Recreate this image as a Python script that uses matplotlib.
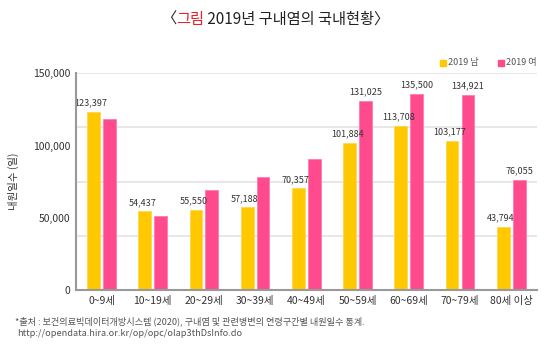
import numpy as np
import matplotlib.pyplot as plt
from matplotlib.patches import Rectangle

plt.rcParams['font.family'] = ['Noto Sans CJK KR', 'DejaVu Sans']

groups = ['0~9세', '10~19세', '20~29세', '30~39세', '40~49세',
          '50~59세', '60~69세', '70~79세', '80세 이상']
male = [123397, 54437, 55550, 57188, 70357, 101884, 113708, 103177, 43794]
female = [118000, 51400, 69500, 78500, 91000, 131025, 135500, 134921, 76055]
# which female bars carry a value label in the original
female_labeled = [False, False, False, False, False, True, True, True, True]

c_male = '#FFC800'
c_female = '#FF4A8D'
txt = '#333333'

fig = plt.figure(figsize=(5.5, 3.5), dpi=100)
ax = fig.add_axes([0.138, 0.171, 0.838, 0.62])

x = np.arange(len(groups))
w = 0.25
off = 0.155
ax.bar(x - off, male, w, color=c_male, edgecolor='#FFD84D', linewidth=0.6, zorder=3)
ax.bar(x + off, female, w, color=c_female, edgecolor='#FF7AAE', linewidth=0.6, zorder=3)

for i, v in enumerate(male):
    ax.text(x[i] - off - 0.05, v + 3000, f'{v:,}', ha='center', va='bottom',
            fontsize=6.5, color=txt)
for i, v in enumerate(female):
    if female_labeled[i]:
        ax.text(x[i] + off, v + 3000, f'{v:,}', ha='center', va='bottom',
                fontsize=6.5, color=txt)

ax.set_xlim(-0.5, len(groups) - 0.5)
ax.set_ylim(0, 150000)
ax.set_yticks([0, 50000, 100000, 150000])
ax.set_yticklabels(['0', '50,000', '100,000', '150,000'])
for g in [37500, 75000, 112500, 150000]:
    ax.axhline(g, color='#E3E3E3', linewidth=1.2, zorder=1)
ax.set_xticks(x)
ax.set_xticklabels(groups)
ax.tick_params(axis='both', length=0, labelsize=7.5, colors=txt)
ax.tick_params(axis='x', pad=4)
ax.tick_params(axis='y', pad=4)
for s in ['top', 'right']:
    ax.spines[s].set_visible(False)
for s in ['left', 'bottom']:
    ax.spines[s].set_color('#999999')
    ax.spines[s].set_linewidth(1.5)
    ax.spines[s].set_zorder(4)

ax.set_ylabel('내원일수 (일)', fontsize=7.5, color=txt, labelpad=10)

# legend
fig.patches.append(Rectangle((0.8, 0.812), 0.011, 0.017, transform=fig.transFigure,
                             color=c_male, figure=fig))
fig.text(0.815, 0.821, '2019 남', fontsize=6.5, color='#555555', va='center')
fig.patches.append(Rectangle((0.905, 0.812), 0.011, 0.017, transform=fig.transFigure,
                             color=c_female, figure=fig))
fig.text(0.92, 0.821, '2019 여', fontsize=6.5, color='#555555', va='center')

# title: pieces laid out one after another
pieces = [('〈', '#222222'), ('그림', '#E8202A'), (' 2019년 구내염의 국내현황〉', '#222222')]
renderer = fig.canvas.get_renderer()
handles = []
for s, c in pieces:
    handles.append(fig.text(0, 0.945, s, fontsize=11, color=c, va='center'))
widths = [h.get_window_extent(renderer).width / fig.bbox.width for h in handles]
xpos = 0.5 - sum(widths) / 2
for h, wd in zip(handles, widths):
    h.set_x(xpos)
    xpos += wd

fig.text(0.027, 0.083, '*출처 : 보건의료빅데이터개방시스템 (2020), 구내염 및 관련병변의 연령구간별 내원일수 통계.',
         fontsize=6.6, color='#555555', va='center')
fig.text(0.032, 0.046, 'http://opendata.hira.or.kr/op/opc/olap3thDsInfo.do',
         fontsize=6.6, color='#555555', va='center')

fig.savefig('out.png', dpi=100)
